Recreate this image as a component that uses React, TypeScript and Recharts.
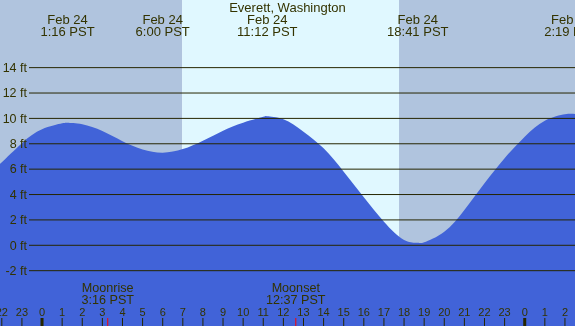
import { AreaChart, Area, XAxis, YAxis, ReferenceArea } from "recharts";

const hourTicks = [-2, -1, 0, 1, 2, 3, 4, 5, 6, 7, 8, 9, 10, 11, 12, 13, 14, 15, 16, 17, 18, 19, 20, 21, 22, 23, 24, 25, 26];
const footTicks = [-2, 0, 2, 4, 6, 8, 10, 12, 14];

// tide curve, hours from midnight Feb 24 (PST)
const tideHours = [-2.09, -2, -1, 0, 1, 1.27, 2, 3, 4, 5, 6, 7, 8, 9, 10, 11, 11.2, 12, 13, 14, 15, 16, 17, 18, 18.68, 19, 20, 21, 22, 23, 24, 25, 26, 26.32, 26.5];
const tideFeet = [6.46, 6.55, 8.05, 9.14, 9.61, 9.65, 9.53, 9.0, 8.2, 7.55, 7.3, 7.58, 8.24, 9.03, 9.66, 10.13, 10.17, 9.93, 8.95, 7.64, 5.8, 3.78, 1.86, 0.42, 0.2, 0.24, 1.07, 2.78, 4.88, 6.86, 8.56, 9.82, 10.32, 10.36, 10.35];

const tideEventTimes = [1.267, 6.0, 11.2, 18.683, 26.317];
const tideEventDates = ["Feb 24", "Feb 24", "Feb 24", "Feb 24", "Feb 25"];
const tideEventLabels = ["1:16 PST", "6:00 PST", "11:12 PST", "18:41 PST", "2:19 PST"];

const moonTimes = [3.267, 12.617];
const moonNames = ["Moonrise", "Moonset"];
const moonLabels = ["3:16 PST", "12:37 PST"];

const sunrise = 6.97;
const sunset = 17.75;

const X_DOMAIN = [-2.09, 26.5];
const Y_DOMAIN = [-6.36, 19.33];

const TEXT = "#333300";
const LINE = "#262600";
const FONT = "'Liberation Sans', Arial, sans-serif";

const data = tideHours.map((h, i) => ({ h, ft: tideFeet[i] }));

const HourTick = (props: any) => {
  const { x, payload } = props;
  const v = payload.value;
  const label = ((v % 24) + 24) % 24;
  const midnight = label === 0;
  return (
    <g>
      <line x1={x} x2={x} y1={318} y2={326} stroke={LINE} strokeWidth={midnight ? 3 : 1} />
      <text x={x} y={315.5} textAnchor="middle" fontSize={11} fill={TEXT} fontFamily={FONT}>
        {label}
      </text>
    </g>
  );
};

const MoonTick = (props: any) => {
  const { x, index } = props;
  return (
    <g>
      <line x1={x} x2={x} y1={318} y2={326} stroke="#ff0000" strokeWidth={1} />
      <text x={x} y={292} textAnchor="middle" fontSize={12.6} fill={TEXT} fontFamily={FONT}>
        {moonNames[index]}
      </text>
      <text x={x} y={303.7} textAnchor="middle" fontSize={12.6} fill={TEXT} fontFamily={FONT}>
        {moonLabels[index]}
      </text>
    </g>
  );
};

const TideTick = (props: any) => {
  const { x, index } = props;
  return (
    <g>
      <text x={x} y={24} textAnchor="middle" fontSize={13} fill={TEXT} fontFamily={FONT}>
        {tideEventDates[index]}
      </text>
      <text x={x} y={36} textAnchor="middle" fontSize={13} fill={TEXT} fontFamily={FONT}>
        {tideEventLabels[index]}
      </text>
    </g>
  );
};

const FootTick = (props: any) => {
  const { y, payload } = props;
  return (
    <g>
      <line x1={29} x2={575} y1={y} y2={y} stroke={LINE} strokeWidth={1} />
      <text x={27} y={y} dy={4.3} textAnchor="end" fontSize={12.5} fill={TEXT} fontFamily={FONT}>
        {payload.value} ft
      </text>
    </g>
  );
};

export default function App() {
  return (
    <div style={{ position: "fixed", left: 0, top: 0, width: 575, height: 326, overflow: "hidden" }}>
      <AreaChart width={575} height={326} data={data} margin={{ top: -1, right: 0, bottom: -2, left: -1 }}>
        <XAxis xAxisId="hours" dataKey="h" type="number" domain={X_DOMAIN} allowDataOverflow ticks={hourTicks}
          interval={0} height={1} axisLine={false} tickLine={false} tick={<HourTick />} />
        <XAxis xAxisId="moon" dataKey="h" type="number" domain={X_DOMAIN} allowDataOverflow ticks={moonTimes}
          interval={0} height={1} axisLine={false} tickLine={false} tick={<MoonTick />} />
        <XAxis xAxisId="tides" orientation="top" dataKey="h" type="number" domain={X_DOMAIN} allowDataOverflow
          ticks={tideEventTimes} interval={0} height={1} axisLine={false} tickLine={false} tick={<TideTick />} />
        <YAxis type="number" domain={Y_DOMAIN} allowDataOverflow ticks={footTicks} interval={0} width={1}
          axisLine={false} tickLine={false} tick={<FootTick />} />
        <ReferenceArea xAxisId="hours" x1={X_DOMAIN[0]} x2={sunrise} fill="#b0c4de" fillOpacity={1} zIndex={-60} />
        <ReferenceArea xAxisId="hours" x1={sunrise} x2={sunset} fill="#e0f8ff" fillOpacity={1} zIndex={-60} />
        <ReferenceArea xAxisId="hours" x1={sunset} x2={X_DOMAIN[1]} fill="#b0c4de" fillOpacity={1} zIndex={-60} />
        <Area xAxisId="hours" type="natural" dataKey="ft" baseValue="dataMin" stroke="none" fill="#4163d8"
          fillOpacity={1} isAnimationActive={false} dot={false} activeDot={false} />
      </AreaChart>
      <div style={{ position: "absolute", left: 0, top: 0, width: 575, textAlign: "center", fontFamily: FONT,
        fontSize: 13, lineHeight: "15px", color: TEXT }}>
        Everett, Washington
      </div>
    </div>
  );
}
